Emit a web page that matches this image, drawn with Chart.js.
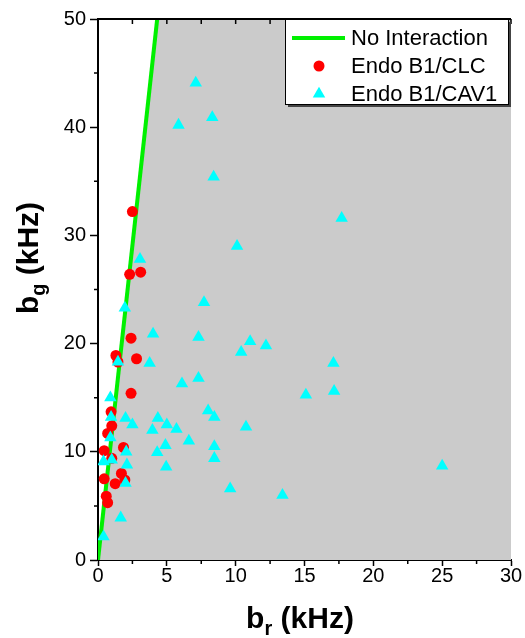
<!DOCTYPE html>
<html>
<head>
<meta charset="utf-8">
<title>b_g vs b_r</title>
<script src="https://cdn.jsdelivr.net/npm/chart.js@4.4.0/dist/chart.umd.min.js"></script>
<style>
  html, body { margin: 0; padding: 0; background: #fff; }
  canvas { display: block; }
</style>
</head>
<body>
<canvas id="chart" width="525" height="638"></canvas>
<script>
// Endo B1/CLC (red circles), b_r and b_g in kHz
const clcBr = [2.5, 2.3, 3.1, 2.4, 1.3, 1.45, 2.8, 2.4, 0.95, 1.0, 0.7, 0.45, 1.85, 1.0, 0.45, 1.7, 1.95, 1.25, 0.6, 0.7];
const clcBg = [32.2, 26.4, 26.6, 20.5, 18.9, 18.3, 18.6, 15.4, 13.7, 12.4, 11.7, 10.1, 10.4, 9.4, 7.5, 8.0, 7.4, 7.05, 5.9, 5.3];

// Endo B1/CAV1 (cyan triangles)
const cavBr = [7.1, 5.85, 8.3, 8.4, 17.7, 10.1, 3.05, 1.95, 7.7, 4.0, 7.3, 11.05, 10.4, 12.2, 1.45, 3.75, 17.1,
  7.3, 6.1, 15.1, 17.15, 0.9, 0.95, 2.0, 2.5, 4.35, 5.0, 3.95, 5.7, 8.0, 8.45, 0.9, 6.6, 10.75, 4.9, 8.45,
  2.05, 4.3, 0.4, 1.0, 8.45, 2.1, 4.95, 2.0, 9.6, 13.4, 25.0, 1.65, 0.4];
const cavBg = [44.1, 40.2, 40.9, 35.4, 31.6, 29.0, 27.8, 23.3, 23.8, 20.9, 20.6, 20.2, 19.2, 19.8, 18.3, 18.2, 18.2,
  16.8, 16.3, 15.25, 15.6, 15.0, 13.2, 13.1, 12.5, 13.1, 12.5, 12.0, 12.1, 13.8, 13.2, 11.3, 11.0, 12.3, 10.6, 10.5,
  10.0, 9.95, 9.1, 9.25, 9.4, 8.8, 8.6, 7.1, 6.6, 6.0, 8.7, 3.9, 2.15];

// "No Interaction" line and the shaded region to its right
const lineBr = [0, 4.3];
const lineBg = [0, 50];
const shadeBr = [0, 4.3, 30];
const shadeBg = [0, 50, 50];

const xTicks = [0, 5, 10, 15, 20, 25, 30];
const yTicks = [0, 10, 20, 30, 40, 50];
const seriesLabels = ["No Interaction", "Endo B1/CLC", "Endo B1/CAV1"];

const FONT = "'Liberation Sans', Arial, sans-serif";
const GREEN = "#00f000";
const RED = "#ff0000";
const CYAN = "#00ffff";

function toPoints(xs, ys) {
  return xs.map((x, i) => ({ x: x, y: ys[i] }));
}

// minor ticks, top frame line with inward ticks
const frame = {
  id: "frame",
  afterDatasetsDraw(chart) {
    const { ctx, chartArea: a } = chart;
    const x = chart.scales.x, y = chart.scales.y;
    ctx.save();
    ctx.strokeStyle = "#000";
    ctx.lineWidth = 2;
    ctx.beginPath();
    ctx.moveTo(a.left - 1, a.top);
    ctx.lineTo(a.right, a.top);
    ctx.stroke();

    ctx.lineWidth = 1.5;
    ctx.beginPath();
    for (let i = 0; i < xTicks.length; i++) {
      const px = x.getPixelForValue(xTicks[i]);
      ctx.moveTo(px, a.top);
      ctx.lineTo(px, a.top + 5);
      if (i < xTicks.length - 1) {
        const mx = x.getPixelForValue((xTicks[i] + xTicks[i + 1]) / 2);
        ctx.moveTo(mx, a.top);
        ctx.lineTo(mx, a.top + 5);
        ctx.moveTo(mx, a.bottom);
        ctx.lineTo(mx, a.bottom + 4);
      }
    }
    for (let i = 0; i < yTicks.length - 1; i++) {
      const my = y.getPixelForValue((yTicks[i] + yTicks[i + 1]) / 2);
      ctx.moveTo(a.left, my);
      ctx.lineTo(a.left - 4, my);
    }
    ctx.stroke();
    ctx.restore();
  }
};

// legend box inside the plot, top right
const legendBox = {
  id: "legendBox",
  afterDraw(chart) {
    const ctx = chart.ctx;
    const x0 = 285, y0 = 19, w = 223, h = 85;
    ctx.save();
    ctx.fillStyle = "#444";
    ctx.fillRect(x0 + 3, y0 + 3, w, h);
    ctx.fillStyle = "#fff";
    ctx.fillRect(x0, y0, w, h);
    ctx.strokeStyle = "#000";
    ctx.lineWidth = 1;
    ctx.strokeRect(x0 + 0.5, y0 + 0.5, w, h);

    const rows = [38, 66, 94];
    ctx.font = "22px " + FONT;
    ctx.textBaseline = "middle";
    ctx.textAlign = "left";
    seriesLabels.forEach((label, i) => {
      const ds = chart.data.datasets.find((d) => d.label === label);
      const cy = rows[i];
      if (i === 0) {
        ctx.strokeStyle = ds.borderColor;
        ctx.lineWidth = 4;
        ctx.beginPath();
        ctx.moveTo(292, cy);
        ctx.lineTo(345, cy);
        ctx.stroke();
      } else {
        ctx.fillStyle = ds.backgroundColor;
        Chart.helpers.drawPoint(ctx, { pointStyle: ds.pointStyle, radius: ds.pointRadius, rotation: 0, borderWidth: 0 }, 319, cy);
      }
      ctx.fillStyle = "#000";
      ctx.fillText(label, 351, cy + 1);
    });
    ctx.restore();
  }
};

// axis titles with subscripts
function drawSubTitle(ctx, main, sub, rest, cx, cy) {
  const big = "bold 30px " + FONT, small = "bold 20px " + FONT;
  ctx.font = big;
  const w1 = ctx.measureText(main).width;
  const w3 = ctx.measureText(rest).width;
  ctx.font = small;
  const w2 = ctx.measureText(sub).width;
  let x = cx - (w1 + w2 + w3) / 2;
  ctx.textBaseline = "alphabetic";
  ctx.textAlign = "left";
  ctx.fillStyle = "#000";
  ctx.font = big;
  ctx.fillText(main, x, cy);
  x += w1;
  ctx.font = small;
  ctx.fillText(sub, x, cy + 7);
  x += w2;
  ctx.font = big;
  ctx.fillText(rest, x, cy);
}

const axisTitles = {
  id: "axisTitles",
  afterDraw(chart) {
    const ctx = chart.ctx;
    ctx.save();
    drawSubTitle(ctx, "b", "r", " (kHz)", 300, 628);
    ctx.translate(38, 258);
    ctx.rotate(-Math.PI / 2);
    drawSubTitle(ctx, "b", "g", " (kHz)", 0, 0);
    ctx.restore();
  }
};

new Chart(document.getElementById("chart"), {
  type: "scatter",
  data: {
    datasets: [
      {
        label: "Endo B1/CAV1",
        data: toPoints(cavBr, cavBg),
        pointStyle: "triangle",
        pointRadius: 7.2,
        borderWidth: 0,
        backgroundColor: CYAN,
        order: 0,
      },
      {
        label: "Endo B1/CLC",
        data: toPoints(clcBr, clcBg),
        pointStyle: "circle",
        pointRadius: 5.5,
        borderWidth: 0,
        backgroundColor: RED,
        order: 1,
      },
      {
        type: "line",
        label: "No Interaction",
        data: toPoints(lineBr, lineBg),
        borderColor: GREEN,
        borderWidth: 4,
        pointRadius: 0,
        fill: false,
        order: 2,
      },
      {
        type: "line",
        label: "shade",
        data: toPoints(shadeBr, shadeBg),
        borderWidth: 0,
        borderColor: "rgba(0,0,0,0)",
        backgroundColor: "#cbcbcb",
        pointRadius: 0,
        fill: "origin",
        order: 3,
      },
    ],
  },
  options: {
    responsive: false,
    animation: false,
    layout: { padding: { top: 19, right: 14, left: 0, bottom: 0 } },
    plugins: {
      legend: { display: false },
      tooltip: { enabled: false },
    },
    scales: {
      x: {
        type: "linear",
        min: 0,
        max: 30,
        z: 1,
        afterBuildTicks: (s) => { s.ticks = xTicks.map((v) => ({ value: v })); },
        afterFit: (s) => { s.height = 78; },
        grid: { drawOnChartArea: false, tickLength: 6, tickColor: "#000", tickWidth: 1.5 },
        border: { color: "#000", width: 2 },
        ticks: { color: "#000", font: { family: FONT, size: 20 }, padding: -2, maxRotation: 0 },
      },
      y: {
        type: "linear",
        min: 0,
        max: 50,
        z: 1,
        afterBuildTicks: (s) => { s.ticks = yTicks.map((v) => ({ value: v })); },
        afterFit: (s) => { s.width = 98; },
        grid: { drawOnChartArea: false, tickLength: 8, tickColor: "#000", tickWidth: 1.5 },
        border: { color: "#000", width: 2 },
        ticks: { color: "#000", font: { family: FONT, size: 20 }, padding: 4 },
      },
    },
  },
  plugins: [frame, legendBox, axisTitles],
});
</script>
</body>
</html>
